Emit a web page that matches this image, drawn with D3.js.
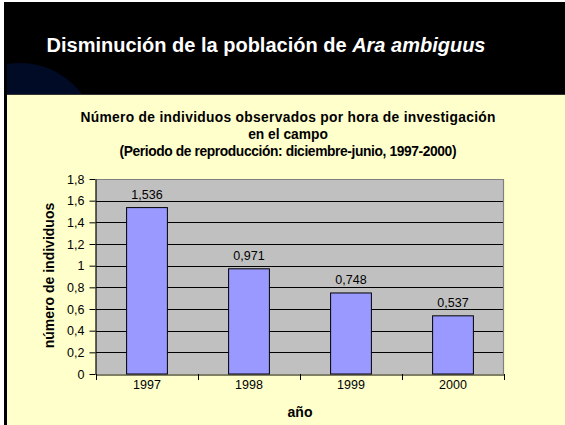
<!DOCTYPE html>
<html>
<head>
<meta charset="utf-8">
<script src="https://cdn.jsdelivr.net/npm/d3@7/dist/d3.min.js"></script>
<style>
  html, body { margin: 0; padding: 0; background: #ffffff; }
  svg { display: block; }
  text { font-family: "Liberation Sans", Arial, Helvetica, sans-serif; }
</style>
</head>
<body>
<svg id="chart" width="565" height="425"></svg>
<script>
// Observations per hour of fieldwork, breeding season Dec–Jun
const years = ["1997", "1998", "1999", "2000"];
const individuals = [1.536, 0.971, 0.748, 0.537];
const yTicks = [0, 0.2, 0.4, 0.6, 0.8, 1, 1.2, 1.4, 1.6, 1.8];

const slideTitle = ["Disminución de la población de ", "Ara ambiguus"];
const chartTitle = [
  "Número de individuos observados por hora de investigación",
  "en el campo",
  "(Periodo de reproducción: diciembre-junio, 1997-2000)"
];
const yTitle = "número de individuos";
const xTitle = "año";

const W = 565, H = 425;
const plot = { left: 96, right: 504, top: 179, bottom: 374 };

const es = d3.formatLocale({ decimal: ",", thousands: ".", grouping: [3], currency: ["", " €"] });
const fmtTick = es.format("~g");
const fmtValue = es.format(".3f");

const svg = d3.select("#chart");

// slide background
svg.append("rect").attr("width", W).attr("height", H).attr("fill", "#ffffff");
svg.append("rect").attr("x", 4).attr("y", 2).attr("width", W - 4).attr("height", 93).attr("fill", "#000000");

svg.append("clipPath").attr("id", "hdr")
  .append("rect").attr("x", 7).attr("y", 2).attr("width", W - 7).attr("height", 93);
svg.append("circle")
  .attr("cx", 20).attr("cy", 140).attr("r", 77)
  .attr("fill", "#020b26")
  .attr("clip-path", "url(#hdr)");

svg.append("rect").attr("x", 7).attr("y", 95).attr("width", W - 7).attr("height", H - 95).attr("fill", "#ffffcc");
svg.append("rect").attr("x", 4).attr("y", 95).attr("width", 3).attr("height", H - 95).attr("fill", "#000000");
svg.append("line").attr("x1", 7).attr("x2", W).attr("y1", 94.5).attr("y2", 94.5)
  .attr("stroke", "#333333").attr("stroke-width", 1);

// slide heading
const head = svg.append("text")
  .attr("x", 266).attr("y", 51.5)
  .attr("text-anchor", "middle")
  .attr("fill", "#ffffff")
  .attr("font-size", 20).attr("font-weight", "bold");
head.append("tspan").text(slideTitle[0]);
head.append("tspan").attr("font-style", "italic").text(slideTitle[1]);

// chart title, three centred lines (first and last fitted to a set width)
const titleBase = [122, 139, 156];
const titleWidth = [415, null, 337];
svg.append("g").selectAll("text").data(chartTitle).join("text")
  .attr("x", 288).attr("y", (d, i) => titleBase[i])
  .attr("text-anchor", "middle")
  .attr("font-size", 13.8).attr("font-weight", "bold")
  .attr("textLength", (d, i) => titleWidth[i])
  .attr("lengthAdjust", (d, i) => titleWidth[i] ? "spacing" : null)
  .attr("fill", "#000000")
  .text(d => d);

// scales
const x = d3.scaleBand().domain(years).range([plot.left, plot.right])
  .paddingInner(0.6).paddingOuter(0.3);
const y = d3.scaleLinear().domain([0, 1.8]).range([plot.bottom, plot.top]);

// plot area
svg.append("rect")
  .attr("x", plot.left).attr("y", y(1.8))
  .attr("width", plot.right - plot.left).attr("height", y(0) - y(1.8))
  .attr("fill", "#c0c0c0");

// gridlines
svg.append("g").selectAll("line").data(yTicks.filter(v => v > 0 && v < 1.8)).join("line")
  .attr("x1", plot.left).attr("x2", plot.right)
  .attr("y1", d => Math.round(y(d)) + 0.5).attr("y2", d => Math.round(y(d)) + 0.5)
  .attr("stroke", "#000000").attr("stroke-width", 1);

// top and right frame
svg.append("path")
  .attr("d", `M${plot.left},${Math.round(y(1.8)) + 0.5}H${plot.right - 0.5}V${plot.bottom}`)
  .attr("fill", "none").attr("stroke", "#808080").attr("stroke-width", 1.2);

// bars
svg.append("g").selectAll("rect").data(years).join("rect")
  .attr("x", d => x(d))
  .attr("y", (d, i) => y(individuals[i]))
  .attr("width", x.bandwidth())
  .attr("height", (d, i) => y(0) - y(individuals[i]))
  .attr("fill", "#9999ff")
  .attr("stroke", "#000000").attr("stroke-width", 1);

// value labels
svg.append("g").selectAll("text").data(years).join("text")
  .attr("x", d => x(d) + x.bandwidth() / 2)
  .attr("y", (d, i) => y(individuals[i]) - 8.5)
  .attr("text-anchor", "middle")
  .attr("font-size", 12.5).attr("fill", "#000000")
  .text((d, i) => fmtValue(individuals[i]));

// y axis
const yAxis = svg.append("g")
  .attr("transform", `translate(${plot.left - 0.5},0)`)
  .call(d3.axisLeft(y).tickValues(yTicks).tickFormat(fmtTick).tickSize(6).tickSizeOuter(0).tickPadding(5));
yAxis.select(".domain").attr("stroke", "#000000").attr("stroke-width", 1.2);
yAxis.selectAll(".tick line").attr("stroke", "#000000");
yAxis.selectAll("text").attr("font-size", 12.5).attr("fill", "#000000")
  .attr("font-family", "'Liberation Sans', Arial, sans-serif");

// x axis: labels centred on categories, tick marks on category boundaries
const xAxis = svg.append("g")
  .attr("transform", `translate(0,${plot.bottom + 0.5})`)
  .call(d3.axisBottom(x).tickSize(0).tickSizeOuter(0).tickPadding(6));
xAxis.select(".domain").attr("stroke", "#000000").attr("stroke-width", 1.2);
xAxis.selectAll("text").attr("font-size", 12.5).attr("fill", "#000000")
  .attr("font-family", "'Liberation Sans', Arial, sans-serif");

const bounds = d3.range(years.length + 1).map(i => x.range()[0] + i * x.step());
svg.append("g").selectAll("line").data(bounds).join("line")
  .attr("x1", d => Math.round(d) + 0.5).attr("x2", d => Math.round(d) + 0.5)
  .attr("y1", plot.bottom).attr("y2", plot.bottom + 6)
  .attr("stroke", "#000000").attr("stroke-width", 1);

// axis titles
svg.append("text")
  .attr("transform", `translate(54,${(plot.top + plot.bottom) / 2 - 1}) rotate(-90)`)
  .attr("text-anchor", "middle")
  .attr("font-size", 14).attr("font-weight", "bold")
  .text(yTitle);

svg.append("text")
  .attr("x", (plot.left + plot.right) / 2).attr("y", 417)
  .attr("text-anchor", "middle")
  .attr("font-size", 14).attr("font-weight", "bold")
  .text(xTitle);
</script>
</body>
</html>
